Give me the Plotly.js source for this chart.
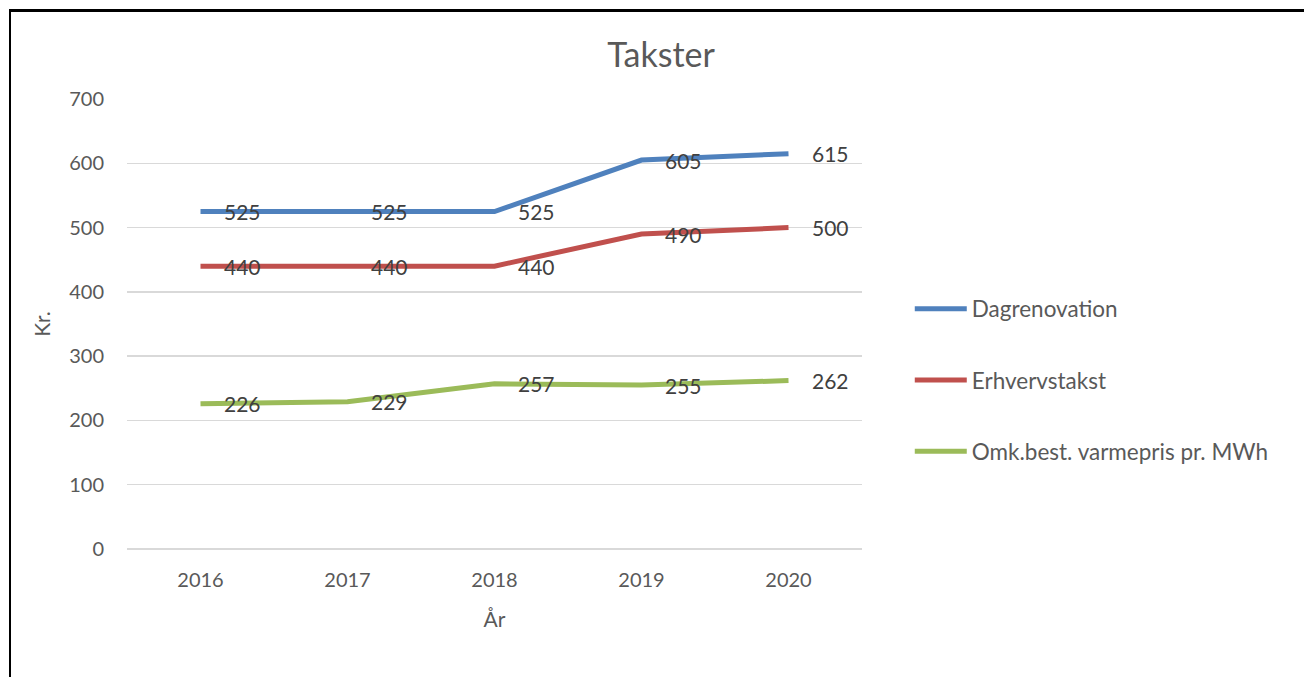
<!DOCTYPE html>
<html>
<head>
<meta charset="utf-8">
<script src="https://cdn.plot.ly/plotly-3.0.1.min.js"></script>
<style>
html,body{margin:0;padding:0;background:#fff;overflow:hidden;}
#frame{position:absolute;left:9px;top:9px;width:1400px;height:800px;border-left:2px solid #000;border-top:3px solid #000;}
#chart{position:absolute;left:0;top:0;width:1304px;height:677px;}
</style>
</head>
<body>
<div id="frame"></div>
<div id="chart"></div>
<script>
const years = ['2016','2017','2018','2019','2020'];
const seriesNames = ['Dagrenovation','Erhvervstakst','Omk.best. varmepris pr. MWh'];
const dagrenovation = [525,525,525,605,615];
const erhvervstakst = [440,440,440,490,500];
const varmepris = [226,229,257,255,262];
const colors = ['#4F81BD','#C0504D','#9BBB59'];
const allSeries = [dagrenovation, erhvervstakst, varmepris];

const FONT = 'Lato, Carlito, "Open Sans", sans-serif';

const traces = allSeries.map((vals,i)=>({
  type:'scatter', mode:'lines', x:years, y:vals, name:seriesNames[i],
  legendgroup:'g'+i,
  line:{color:colors[i], width:5},
  hoverinfo:'skip'
}));

const annotations = [];
allSeries.forEach((vals)=>{
  vals.forEach((v,j)=>{
    annotations.push({x:j, y:v, xref:'x', yref:'y', text:String(v),
      showarrow:false, xanchor:'left', yanchor:'middle', xshift:21, yshift:0,
      font:{family:FONT, size:21, color:'#404040'}});
  });
});

const layout = {
  width:1304, height:677,
  paper_bgcolor:'rgba(0,0,0,0)', plot_bgcolor:'rgba(0,0,0,0)',
  margin:{l:127, r:442, t:99, b:128},
  font:{family:FONT, color:'#595959', size:20},
  title:{text:'Takster', x:0.507, xanchor:'center', y:0.918, yanchor:'middle',
    font:{family:FONT, size:34, color:'#595959'}},
  xaxis:{type:'category', range:[-0.5,4.5], showgrid:false, zeroline:false,
    showline:false, ticks:'', tickfont:{size:20, color:'#595959'},
    ticklabelstandoff:17,
    title:{text:'År', font:{size:21, color:'#595959'}, standoff:22}},
  yaxis:{range:[0,700], dtick:100, showgrid:true, gridcolor:'#D9D9D9', gridwidth:1.5,
    zeroline:true, zerolinecolor:'#D9D9D9', zerolinewidth:1.5, showline:false, ticks:'',
    tickfont:{size:20, color:'#595959'}, ticklabelstandoff:22,
    title:{text:'Kr.', font:{size:21, color:'#595959'}, standoff:12}},
  showlegend:true,
  legend:{x:1.065, xanchor:'left', y:0.581, yanchor:'top', traceorder:'grouped',
    tracegroupgap:39, itemwidth:52, font:{size:22.5, color:'#595959'},
    bgcolor:'rgba(0,0,0,0)'},
  annotations:annotations
};

Plotly.newPlot('chart', traces, layout, {displayModeBar:false, staticPlot:true});
</script>
</body>
</html>
